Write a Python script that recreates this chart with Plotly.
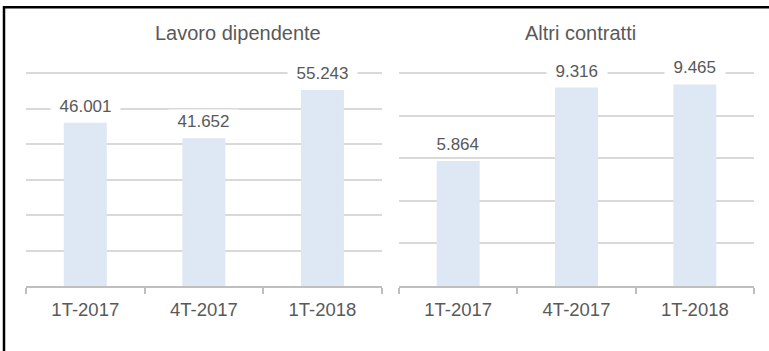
import plotly.graph_objects as go

# Quarterly counts, two groups of contracts
quarters = ["1T-2017", "4T-2017", "1T-2018"]
lavoro_dipendente = [46001, 41652, 55243]
altri_contratti = [5864, 9316, 9465]
titles = ["Lavoro dipendente", "Altri contratti"]

W, H = 769, 351
FONT = "Liberation Sans, Arial, sans-serif"
TEXT = "#595959"
BAR = "#DDE8F4"
GRID = "#D9D9D9"
AXIS = "#BFBFBF"


def px_x(p):
    return p / W


def px_y(p):
    return 1 - p / H


def fmt(v):
    return f"{v:,}".replace(",", ".")


fig = go.Figure()
fig.add_trace(go.Bar(x=quarters, y=lavoro_dipendente, marker_color=BAR,
                     marker_line_width=0, xaxis="x", yaxis="y", hoverinfo="skip"))
fig.add_trace(go.Bar(x=quarters, y=altri_contratti, marker_color=BAR,
                     marker_line_width=0, xaxis="x2", yaxis="y2", hoverinfo="skip"))

xcommon = dict(type="category", showline=True, linecolor=AXIS, linewidth=1.5,
               ticks="outside", ticklen=6, tickcolor=AXIS, tickwidth=1.5,
               tickson="boundaries", showgrid=False, zeroline=False,
               ticklabelstandoff=6,
               tickfont=dict(family=FONT, size=18.5, color=TEXT),
               fixedrange=True)
ycommon = dict(showticklabels=False, showline=False, zeroline=False,
               showgrid=True, gridcolor=GRID, gridwidth=1.5, ticks="",
               fixedrange=True)

# Value axis: headroom of 1% above the last gridline so it is drawn
pad = 1.01
base_px, top_grid_px = 286, 73
top_px = base_px - (base_px - top_grid_px) * pad
yb, yt = px_y(base_px), px_y(top_px)

fig.update_layout(
    width=W, height=H,
    margin=dict(l=0, r=0, t=0, b=0),
    paper_bgcolor="white", plot_bgcolor="white",
    showlegend=False,
    bargap=0.637,
    xaxis=dict(domain=[px_x(26), px_x(381.7)], anchor="y", **xcommon),
    yaxis=dict(domain=[yb, yt], anchor="x", range=[0, 60000 * pad], dtick=10000, **ycommon),
    xaxis2=dict(domain=[px_x(399), px_x(754)], anchor="y2", **xcommon),
    yaxis2=dict(domain=[yb, yt], anchor="x2", range=[0, 10000 * pad], dtick=2000, **ycommon),
)

# Value labels on a white box, above each bar
annotations = []
for axn, vals in (("", lavoro_dipendente), ("2", altri_contratti)):
    for q, v in zip(quarters, vals):
        t = fmt(v)
        annotations.append(dict(
            x=q, y=v, xref="x" + axn, yref="y" + axn,
            text=t, showarrow=False, yanchor="middle", yshift=16.5,
            bgcolor="white", width=len(t) * 9.5 + 8, borderpad=2,
            font=dict(family=FONT, size=17, color=TEXT)))

# Panel titles
for cx, t in ((237.5, titles[0]), (580.8, titles[1])):
    annotations.append(dict(
        x=px_x(cx), y=px_y(33), xref="paper", yref="paper", text=t,
        showarrow=False, xanchor="center", yanchor="middle",
        font=dict(family=FONT, size=20, color=TEXT)))
fig.update_layout(annotations=annotations)

# Frame around the chart
fig.add_shape(type="rect", xref="paper", yref="paper",
              x0=px_x(4), y0=px_y(7.3), x1=1.1, y1=-0.1,
              line=dict(color="black", width=2.5), fillcolor="rgba(0,0,0,0)",
              layer="above")

fig.write_html("out.html")
